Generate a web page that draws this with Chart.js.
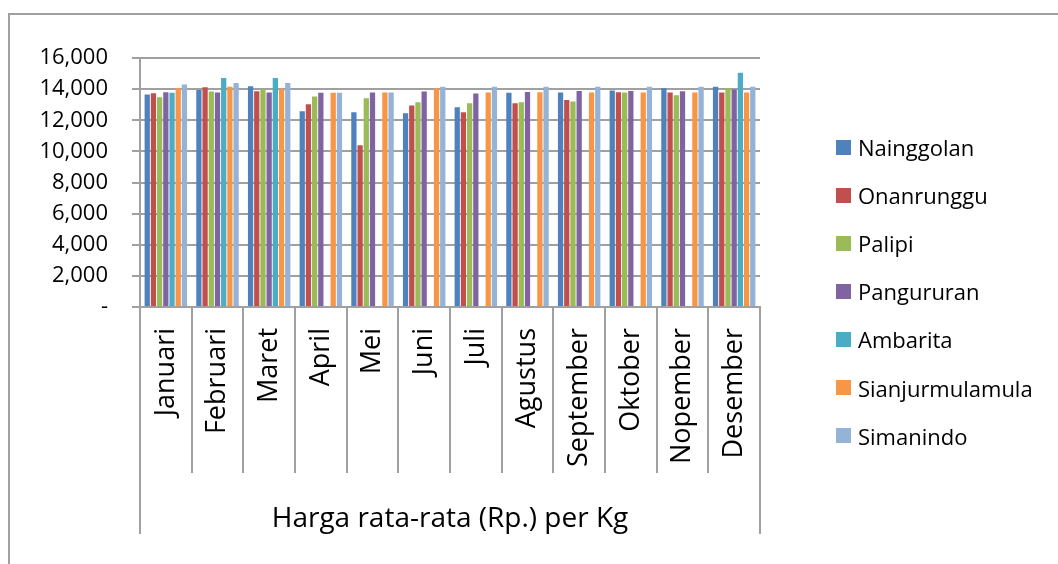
<!DOCTYPE html>
<html lang="id">
<head>
<meta charset="UTF-8">
<title>Harga rata-rata per Kg</title>
<script src="https://cdn.jsdelivr.net/npm/chart.js"></script>
<style>
  html, body { margin: 0; padding: 0; background: #fff; }
  .wrap { position: relative; width: 1058px; height: 564px; overflow: hidden; }
  .frame { position: absolute; left: 8px; top: 13px; width: 1100px; height: 600px;
           border-left: 2px solid #a0a0a0; border-top: 2px solid #a0a0a0; }
  canvas { position: absolute; left: 0; top: 0; }
  #legend { position: absolute; left: 836px; top: 123px; font-family: "Open Sans", sans-serif;
            font-size: 22px; color: #000; }
  #legend div { height: 48.1px; display: flex; align-items: center; }
  #legend span.box { width: 15px; height: 15px; margin-right: 7px; display: inline-block; }
</style>
</head>
<body>
<div class="wrap">
  <div class="frame"></div>
  <canvas id="chart" width="1058" height="564"></canvas>
  <div id="legend"></div>
</div>

<script>
// data
const months = ['Januari', 'Februari', 'Maret', 'April', 'Mei', 'Juni', 'Juli',
                'Agustus', 'September', 'Oktober', 'Nopember', 'Desember'];
const seriesNames = ['Nainggolan', 'Onanrunggu', 'Palipi', 'Pangururan',
                     'Ambarita', 'Sianjurmulamula', 'Simanindo'];
const nainggolan      = [13650, 13950, 14190, 12580, 12510, 12450, 12830, 13760, 13780, 13910, 14060, 14150];
const onanrunggu      = [13740, 14120, 13870, 13030, 10400, 12950, 12510, 13100, 13300, 13800, 13780, 13780];
const palipi          = [13480, 13850, 13980, 13520, 13420, 13160, 13100, 13160, 13200, 13780, 13610, 14060];
const pangururan      = [13800, 13780, 13780, 13760, 13780, 13850, 13720, 13820, 13880, 13880, 13870, 13980];
const ambarita        = [13760, 14720, 14720, null, null, null, null, null, null, null, null, 15050];
const sianjurmulamula = [14080, 14150, 14020, 13760, 13780, 14060, 13780, 13800, 13780, 13780, 13780, 13780];
const simanindo       = [14300, 14400, 14400, 13760, 13780, 14150, 14150, 14150, 14150, 14150, 14150, 14150];
const yTicks = [0, 2000, 4000, 6000, 8000, 10000, 12000, 14000, 16000];
const axisTitle = 'Harga rata-rata (Rp.) per Kg';

const colors = ['#4F81BD', '#C0504D', '#9BBB59', '#8064A2', '#4BACC6', '#F79646', '#95B3D7'];
const values = [nainggolan, onanrunggu, palipi, pangururan, ambarita, sianjurmulamula, simanindo];

const datasets = seriesNames.map((name, i) => ({
    label: name,
    data: values[i],
    backgroundColor: colors[i],
    borderWidth: 0,
    categoryPercentage: 0.84,
    barPercentage: 0.85
}));

// legend as html
const legendBox = document.getElementById('legend');
seriesNames.forEach((name, i) => {
    const row = document.createElement('div');
    row.innerHTML = `<span class="box" style="background:${colors[i]}"></span>${name}`;
    legendBox.appendChild(row);
});

// outer lines of the category axis box
const outerLines = {
    id: 'outerLines',
    afterDraw(chart) {
        const {ctx, chartArea} = chart;
        ctx.save();
        ctx.strokeStyle = '#a0a0a0';
        ctx.lineWidth = 2;
        [chartArea.left, chartArea.right].forEach(x => {
            ctx.beginPath();
            ctx.moveTo(x, chartArea.bottom);
            ctx.lineTo(x, 534);
            ctx.stroke();
        });
        ctx.restore();
    }
};

new Chart(document.getElementById('chart'), {
    type: 'bar',
    data: { labels: months, datasets: datasets },
    plugins: [outerLines],
    options: {
        responsive: false,
        animation: false,
        layout: { padding: { left: 0, right: 298, top: 58, bottom: 0 } },
        plugins: {
            legend: { display: false },
            tooltip: { enabled: false }
        },
        scales: {
            x: {
                afterFit: s => { s.height = 257; },
                grid: {
                    drawOnChartArea: false,
                    drawTicks: true,
                    tickLength: 166,
                    color: '#a0a0a0',
                    lineWidth: 2
                },
                border: { color: '#a0a0a0', width: 2 },
                ticks: {
                    minRotation: 90,
                    maxRotation: 90,
                    padding: -145,
                    color: '#000',
                    font: { family: 'Open Sans', size: 27 }
                },
                title: {
                    display: true,
                    text: axisTitle,
                    color: '#000',
                    font: { family: 'Open Sans', size: 28 },
                    padding: { top: 0, bottom: 28 }
                }
            },
            y: {
                min: 0,
                max: 16000,
                afterFit: s => { s.width = 140; },
                afterBuildTicks: s => { s.ticks = yTicks.map(v => ({ value: v })); },
                grid: { color: '#a0a0a0', lineWidth: 2, tickLength: 8 },
                border: { color: '#a0a0a0', width: 2 },
                ticks: {
                    padding: 24,
                    color: '#000',
                    font: { family: 'Open Sans', size: 22 },
                    callback: v => v === 0 ? '-' : v.toLocaleString('en-US')
                }
            }
        }
    }
});
</script>
</body>
</html>
